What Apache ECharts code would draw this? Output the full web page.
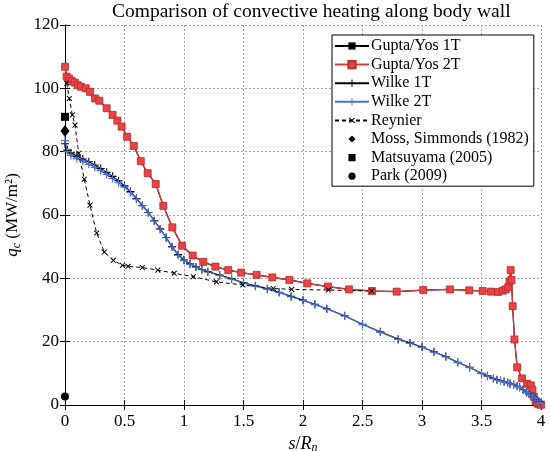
<!DOCTYPE html>
<html>
<head>
<meta charset="utf-8">
<script src="https://cdn.jsdelivr.net/npm/echarts@6/dist/echarts.min.js"></script>
<style>html,body{margin:0;padding:0;background:#fff}#c{width:550px;height:451px}</style>
</head>
<body>
<div id="c"></div>
<script>
// ---- data ----
const titleText = 'Comparison of convective heating along body wall';
const xTicks = [0, 0.5, 1, 1.5, 2, 2.5, 3, 3.5, 4];
const yTicks = [0, 20, 40, 60, 80, 100, 120];

const gupta_s = [0,0.014,0.034,0.056,0.084,0.107,0.134,0.174,0.21,0.252,0.288,0.35,0.40,0.44,0.476,0.522,0.578,0.637,0.695,0.762,0.826,0.902,0.984,1.073,1.162,1.264,1.372,1.48,1.61,1.742,1.885,2.036,2.21,2.387,2.58,2.787,3.01,3.235,3.397,3.51,3.58,3.64,3.678,3.703,3.725,3.735,3.745,3.752,3.762,3.777,3.80,3.84,3.884,3.915,3.928,3.94,3.955,3.97,3.985,4.0];
const gupta2T_q = [106.8,103.7,103.1,102.3,101.8,101.0,100.5,100.0,98.9,96.8,96.1,93.7,91.6,89.8,87.9,84.7,81.8,77.0,73.2,69.8,62.9,56.1,50.3,47.2,45.2,43.7,42.6,41.8,41.1,40.3,39.5,38.4,37.4,36.5,36.0,35.8,36.3,36.5,36.2,36.0,35.8,35.7,36.1,36.5,37.2,39.0,42.6,39.5,31.2,20.7,11.9,8.4,6.7,6.2,4.8,2.6,1.2,0.5,0.2,0.1];
const gupta1T_q = gupta2T_q.slice();

const wilke_s = [0,0.02,0.05,0.1,0.15,0.2,0.25,0.3,0.35,0.4,0.45,0.5,0.55,0.6,0.65,0.7,0.75,0.8,0.85,0.9,0.95,1.0,1.05,1.1,1.15,1.2,1.3,1.4,1.5,1.6,1.7,1.8,1.9,2.0,2.1,2.2,2.35,2.5,2.65,2.8,2.9,3.0,3.1,3.2,3.3,3.4,3.5,3.55,3.6,3.63,3.66,3.69,3.72,3.74,3.77,3.8,3.82,3.85,3.88,3.9,3.93,3.95,3.97,3.99,4.0];
const wilke1T_q = [82.5,80.5,79.6,78.6,77.7,76.8,75.8,74.7,73.5,72.2,70.8,69.2,67.4,65.2,63.0,60.8,58.2,55.6,52.9,50.0,47.5,45.8,44.6,43.6,42.8,42.1,41.0,39.9,38.6,37.6,36.7,35.6,34.3,33.1,31.8,30.4,28.2,25.5,23.1,20.8,19.6,18.3,16.8,15.3,13.5,11.9,10.0,9.2,8.4,8.0,7.7,7.4,7.1,6.8,6.5,6.0,5.6,4.9,4.0,3.5,2.7,2.2,1.6,0.9,0.6];
const wilke2T_q = [83.5,80.0,78.8,77.8,77.0,76.0,75.0,74.0,72.8,71.5,70.2,68.8,67.1,65.0,62.9,60.7,58.1,55.5,52.8,49.9,47.3,45.6,44.4,43.5,42.7,42.0,40.9,39.8,38.5,37.5,36.6,35.5,34.2,33.0,31.7,30.3,28.1,25.4,23.0,20.7,19.5,18.2,16.7,15.2,13.4,11.8,9.9,9.1,8.3,7.9,7.6,7.3,7.0,6.7,6.4,5.9,5.5,4.8,3.9,3.4,2.6,2.1,1.5,0.8,0.5];

const reynier_s = [0.014,0.036,0.062,0.084,0.115,0.162,0.21,0.266,0.33,0.406,0.483,0.53,0.65,0.78,0.918,1.078,1.273,1.495,1.75,1.905,2.213,2.577];
const reynier_q = [101.6,96.8,91.6,88.4,79.5,71.3,63.1,54.3,48.3,45.7,44.1,43.8,43.4,42.6,41.6,40.5,38.9,37.9,36.8,36.5,36.3,36.0];

const moss = [[0, 86.5]];
const matsuyama = [[0, 91.0]];
const park = [[0, 2.7]];

// ---- build chart ----
const FF = 'Liberation Serif';
const zip = (a, b) => a.map((v, i) => [v, b[i]]);
const plus = 'path://M4.3,0 H5.7 V4.3 H10 V5.7 H5.7 V10 H4.3 V5.7 H0 V4.3 H4.3 Z';
const RED = '#d93a3a', BLUE = '#4a72d6';

const chart = echarts.init(document.getElementById('c'), null, {renderer: 'canvas'});
const axisCommon = {
  axisLine: {show: true, lineStyle: {color: '#000', width: 1}},
  axisTick: {show: true, inside: true, length: 5, lineStyle: {color: '#000'}},
};
const pointSeries = (name, data, symbol, size) => ({
  name, type: 'line', data, symbol, symbolSize: size, showSymbol: true, clip: false,
  lineStyle: {width: 0, opacity: 0}, itemStyle: {color: '#000'}
});
chart.setOption({
  animation: false,
  backgroundColor: '#fff',
  graphic: [{type: 'text', left: 112, top: 2, style: {text: titleText, font: '19.5px "Liberation Serif"', fill: '#000'}}],
  grid: {left: 65, right: 9, top: 25, bottom: 46, show: false, containLabel: false, outerBoundsMode: 'none'},
  xAxis: [
    Object.assign({type: 'value', min: 0, max: 4, interval: 0.5, position: 'bottom',
      name: '{i|s}{r|/}{i|R}{sub|n}', nameLocation: 'middle', nameGap: 23,
      nameTextStyle: {fontFamily: FF, fontSize: 18, color: '#000',
        rich: {i: {fontFamily: FF, fontStyle: 'italic', fontSize: 18}, r: {fontFamily: FF, fontSize: 18},
               sub: {fontFamily: FF, fontStyle: 'italic', fontSize: 12, verticalAlign: 'bottom', padding: [8, 0, 0, 0]}}},
      axisLabel: {fontFamily: FF, fontSize: 17, color: '#000', margin: 8},
      splitLine: {show: true, lineStyle: {type: [2, 2], color: '#a0a0a0', width: 1}}}, axisCommon),
    Object.assign({type: 'value', min: 0, max: 4, interval: 0.5, position: 'top',
      axisLabel: {show: false}, splitLine: {show: false}}, axisCommon)
  ],
  yAxis: [
    Object.assign({type: 'value', min: 0, max: 120, interval: 20, position: 'left',
      name: '{i|q}{sub|c} (MW/m²)', nameLocation: 'middle', nameGap: 36,
      nameTextStyle: {fontFamily: FF, fontSize: 17, color: '#000',
        rich: {i: {fontFamily: FF, fontStyle: 'italic', fontSize: 17},
               sub: {fontFamily: FF, fontStyle: 'italic', fontSize: 12, verticalAlign: 'bottom', padding: [8, 0, 0, 0]}}},
      axisLabel: {fontFamily: FF, fontSize: 17, color: '#000', margin: 6},
      splitLine: {show: true, lineStyle: {type: [2, 2], color: '#a0a0a0', width: 1}}}, axisCommon),
    Object.assign({type: 'value', min: 0, max: 120, interval: 20, position: 'right',
      axisLabel: {show: false}, splitLine: {show: false}}, axisCommon)
  ],
  legend: {
    orient: 'vertical', left: 332, top: 35, itemWidth: 34, itemHeight: 9, itemGap: 2.6,
    padding: [3, 5, 2, 2], backgroundColor: '#fff', borderColor: '#000', borderWidth: 1,
    textStyle: {fontFamily: FF, fontSize: 16, color: '#000', padding: [0, 0, 0, -3]},
    data: ['Gupta/Yos 1T', 'Gupta/Yos 2T', 'Wilke 1T', 'Wilke 2T', 'Reynier', 'Moss, Simmonds (1982)', 'Matsuyama (2005)', 'Park (2009)']
  },
  series: [
    {name: 'Gupta/Yos 1T', type: 'line', data: zip(gupta_s, gupta1T_q), symbol: 'rect', symbolSize: 6,
     lineStyle: {color: '#000', width: 1.2}, itemStyle: {color: '#000'}},
    {name: 'Gupta/Yos 2T', type: 'line', data: zip(gupta_s, gupta2T_q), symbol: 'rect', symbolSize: 7,
     lineStyle: {color: RED, width: 1.3}, itemStyle: {color: '#e84444', borderColor: '#b82c2c', borderWidth: 0.8}},
    {name: 'Wilke 1T', type: 'line', data: zip(wilke_s, wilke1T_q), symbol: plus, symbolSize: 8,
     lineStyle: {color: '#000', width: 1.2}, itemStyle: {color: '#000'}},
    {name: 'Wilke 2T', type: 'line', data: zip(wilke_s, wilke2T_q), symbol: plus, symbolSize: 8,
     lineStyle: {color: BLUE, width: 1.2}, itemStyle: {color: BLUE}},
    {name: 'Reynier', type: 'line', data: zip(reynier_s, reynier_q), symbol: plus, symbolSize: 7, symbolRotate: 45,
     lineStyle: {color: '#000', width: 1, type: [4, 3]}, itemStyle: {color: '#000'}},
    pointSeries('Moss, Simmonds (1982)', moss, 'diamond', [9, 12]),
    pointSeries('Matsuyama (2005)', matsuyama, 'rect', 8),
    pointSeries('Park (2009)', park, 'circle', 8)
  ]
});
</script>
</body>
</html>
